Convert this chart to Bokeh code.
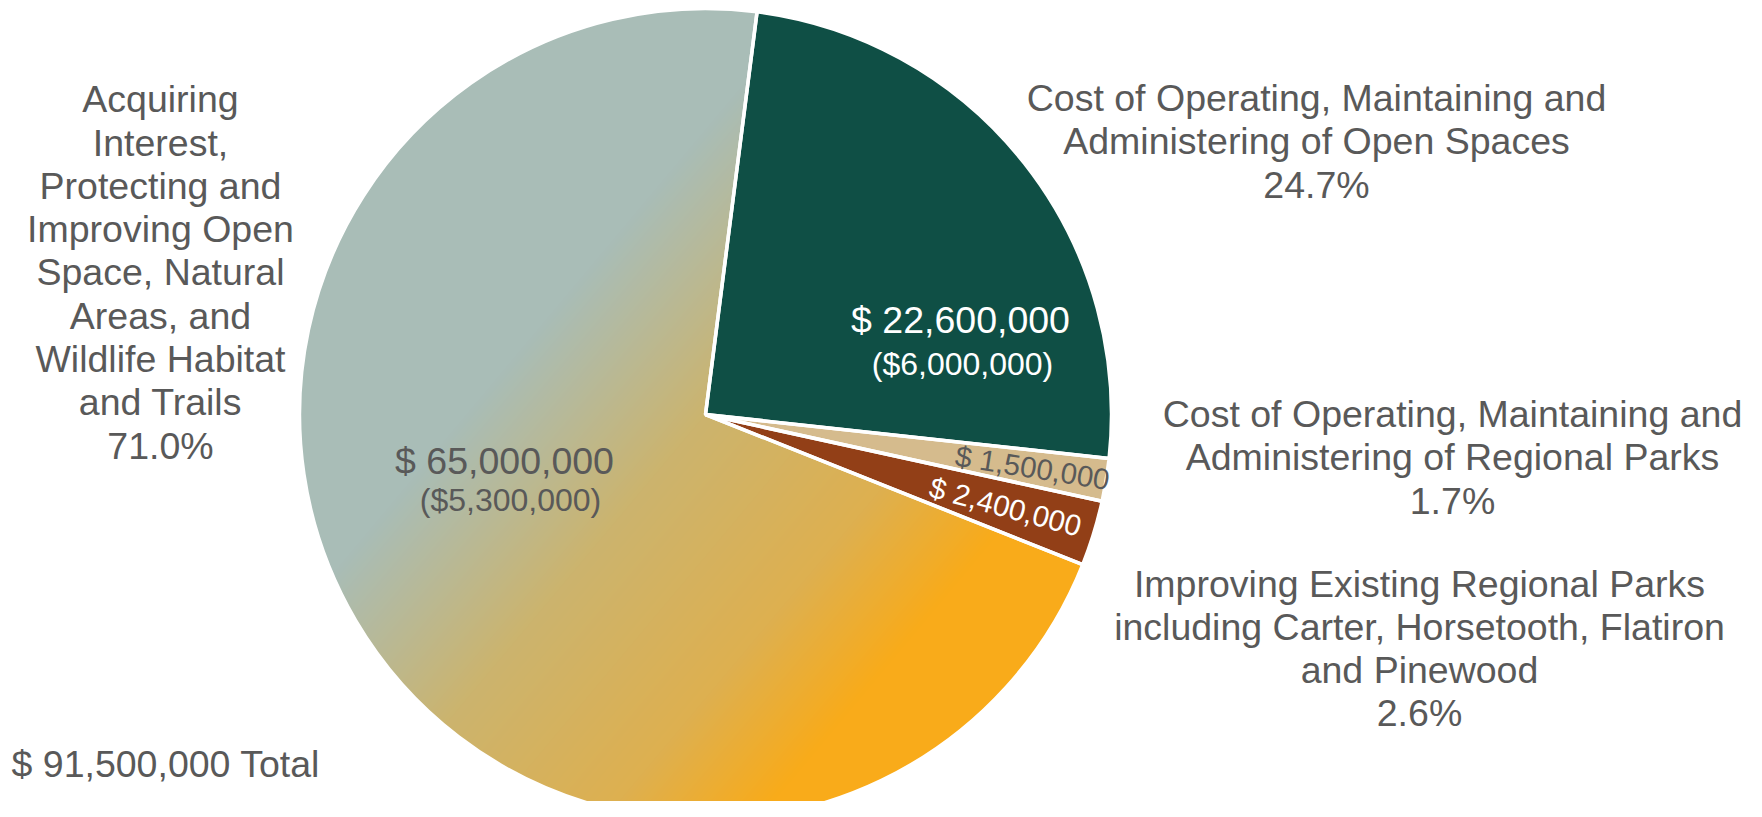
import numpy as np
from bokeh.plotting import figure
from bokeh.models import Range1d, ColumnDataSource
from bokeh.core.properties import value
from bokeh.embed import file_html
from bokeh.resources import INLINE

# ---------------- data ----------------
categories = [
    "Cost of Operating, Maintaining and\nAdministering of Open Spaces",
    "Cost of Operating, Maintaining and\nAdministering of Regional Parks",
    "Improving Existing Regional Parks\nincluding Carter, Horsetooth, Flatiron\nand Pinewood",
    "Acquiring\nInterest,\nProtecting and\nImproving Open\nSpace, Natural\nAreas, and\nWildlife Habitat\nand Trails",
]
amounts_musd = [22.6, 1.5, 2.4, 65.0]
reserved_musd = [6.0, None, None, 5.3]
percent_values = [24.7, 1.7, 2.6, 71.0]
percent_labels = ["24.7%", "1.7%", "2.6%", "71.0%"]
total_musd = 91.5

# ---------------- styles / layout ----------------
W, H = 1746, 801
REF_H = 817
FONT = "Liberation Sans"
TXT = "#595959"
slice_colors = ["#0F4F45", "#D5BB8D", "#923F17", "#C9B474"]
grad_stops = [-0.45, 0.0, 0.45, 0.74]
grad_cols = [(169, 189, 183), (204, 180, 110), (222, 176, 80), (249, 171, 26)]
grad_angle = np.radians(40)

CX, CY_S, R = 705.0, 414.0, 406.0
CY = REF_H - CY_S
START_CW = 7.3

def sy(v):
    return REF_H - v

p = figure(width=W, height=H, output_backend="svg", toolbar_location=None,
           x_range=Range1d(0, W), y_range=Range1d(REF_H - H, REF_H),
           min_border=0, outline_line_color=None)
p.axis.visible = False
p.grid.visible = False
p.background_fill_color = "white"
p.border_fill_color = "white"

# slice angles (clockwise from 12 o'clock)
cum = np.cumsum([0] + percent_values[:-1])
start_cw = START_CW + cum * 3.6
end_cw = start_cw + np.array(percent_values) * 3.6
src = ColumnDataSource(dict(
    start=np.radians(90 - start_cw), end=np.radians(90 - end_cw),
    color=slice_colors, x=[CX] * 4, y=[CY] * 4,
))

# base fill for all slices
p.wedge(x="x", y="y", radius=R, start_angle="start", end_angle="end", direction="clock",
        fill_color="color", line_color=None, source=src)

# gradient image for the large slice
big = 3
n = int(2 * R + 4)
x0, y0 = CX - R - 2, CY - R - 2
jj, ii = np.meshgrid(np.arange(n), np.arange(n))
px = x0 + jj + 0.5
py = y0 + ii + 0.5
dx = px - CX
dys = (REF_H - py) - CY_S
r = np.hypot(dx, dys)
th = np.degrees(np.arctan2(dx, -dys)) % 360
a0, a1 = start_cw[big] % 360, end_cw[big] % 360
inside = (th >= a0) | (th < a1)
alpha = np.clip(R - r + 0.5, 0, 1) * inside
t = (dx * np.cos(grad_angle) + dys * np.sin(grad_angle)) / R
img = np.zeros((n, n), dtype=np.uint32)
view = img.view(dtype=np.uint8).reshape((n, n, 4))
for k in range(3):
    view[:, :, k] = np.interp(t, grad_stops, [c[k] for c in grad_cols]).astype(np.uint8)
view[:, :, 3] = (alpha * 255).astype(np.uint8)
p.image_rgba(image=[img], x=x0, y=y0, dw=n, dh=n)

# white separators
p.wedge(x="x", y="y", radius=R, start_angle="start", end_angle="end", direction="clock",
        fill_color=None, line_color="white", line_width=3.5, source=src)

# ---------------- outer labels ----------------
outer_pos = [(1316, 141), (1452, 457), (1419, 648), (160, 272)]
p.text(x=[q[0] for q in outer_pos], y=[sy(q[1]) for q in outer_pos],
       text=[c + "\n" + pl for c, pl in zip(categories, percent_labels)],
       text_font=value(FONT), text_font_size=value("37.5px"), text_color=TXT,
       text_align="center", text_baseline="middle", text_line_height=1.03)

# ---------------- in-slice labels ----------------
def money(v):
    return "$ {:,.0f}".format(v * 1e6)

def paren(v):
    return "(${:,.0f})".format(v * 1e6)

# large labels (open spaces, acquiring)
p.text(x=[960, 504], y=[sy(319), sy(460)], text=[money(amounts_musd[0]), money(amounts_musd[3])],
       text_font=value(FONT), text_font_size=value("37.5px"), text_color=["white", TXT],
       text_align="center", text_baseline="middle")
p.text(x=[962, 510], y=[sy(363), sy(499)], text=[paren(reserved_musd[0]), paren(reserved_musd[3])],
       text_font=value(FONT), text_font_size=value("32px"), text_color=["white", TXT],
       text_align="center", text_baseline="middle")
# small rotated labels
p.text(x=[1032, 1005], y=[sy(467), sy(506)], text=[money(amounts_musd[1]), money(amounts_musd[2])],
       angle=[np.radians(-9), np.radians(-15)],
       text_font=value(FONT), text_font_size=value("29.5px"), text_color=[TXT, "white"],
       text_align="center", text_baseline="middle")

# total
p.text(x=[11], y=[sy(763)], text=["$ {:,.0f} Total".format(total_musd * 1e6)],
       text_font=value(FONT), text_font_size=value("37.5px"), text_color=TXT,
       text_align="left", text_baseline="middle")

open("out.html", "w").write(file_html(p, INLINE))
